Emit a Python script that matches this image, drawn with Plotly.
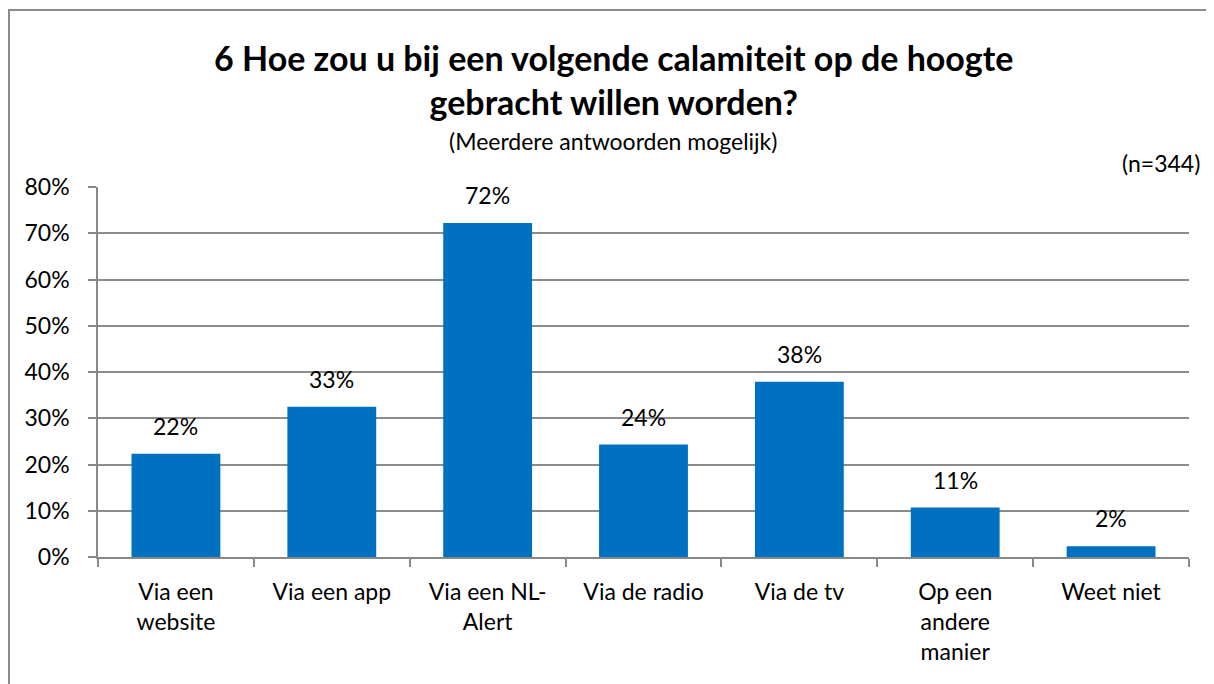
import plotly.graph_objects as go

categories = ["Via een<br>website", "Via een app", "Via een NL-<br>Alert", "Via de radio",
              "Via de tv", "Op een<br>andere<br>manier", "Weet niet"]
values = [22.3, 32.5, 72.2, 24.3, 37.9, 10.7, 2.3]
labels = ["22%", "33%", "72%", "24%", "38%", "11%", "2%"]
y_ticks = [0, 10, 20, 30, 40, 50, 60, 70, 80]
y_tick_labels = ["0%", "10%", "20%", "30%", "40%", "50%", "60%", "70%", "80%"]

FONT = "Lato, 'Open Sans', sans-serif"
OFF = 8  # default page body margin
W, H = 1214 - OFF, 684 - OFF
L, R, T, B = 98 - OFF, 1214 - 1189, 187 - OFF, 684 - 557
pw = W - L - R
ph = H - T - B

fig = go.Figure()
fig.add_trace(go.Bar(
    x=categories, y=values, marker_color="#0070C0", marker_line_width=0,
    width=0.57, hoverinfo="skip",
))

for c, v, t in zip(categories, values, labels):
    fig.add_annotation(x=c, y=v, text=t, showarrow=False, yanchor="bottom",
                       yshift=12, font=dict(family=FONT, size=23, color="#000"))

def px_x(p):
    return (p - OFF - L) / pw

def px_y(p):
    return (H - B - (p - OFF)) / ph

# titles
fig.add_annotation(xref="paper", yref="paper", x=px_x(613), y=px_y(79),
                   text="<b>6 Hoe zou u bij een volgende calamiteit op de hoogte<br>gebracht willen worden?</b>",
                   showarrow=False, xanchor="center", yanchor="middle",
                   font=dict(family=FONT, size=34, color="#000"))
fig.add_annotation(xref="paper", yref="paper", x=px_x(613), y=px_y(141),
                   text="(Meerdere antwoorden mogelijk)", showarrow=False,
                   xanchor="center", yanchor="middle",
                   font=dict(family=FONT, size=23, color="#000"))
fig.add_annotation(xref="paper", yref="paper", x=px_x(1202), y=px_y(163),
                   text="(n=344)", showarrow=False, xanchor="right", yanchor="middle",
                   font=dict(family=FONT, size=23, color="#000"))

# outer chart border
fig.add_shape(type="rect", xref="paper", yref="paper",
              x0=px_x(9), x1=px_x(1240), y0=px_y(720), y1=px_y(10),
              line=dict(color="#8c8c8c", width=2), fillcolor="rgba(0,0,0,0)", layer="below")

fig.update_layout(
    width=W, height=H, margin=dict(l=L, r=R, t=T, b=B),
    paper_bgcolor="white", plot_bgcolor="white", showlegend=False,
    font=dict(family=FONT, size=23, color="#000"),
)
fig.update_xaxes(
    type="category", tickson="boundaries", ticks="outside", ticklen=8,
    tickcolor="#888888", tickwidth=1.5, showline=True, linecolor="#888888", linewidth=1.5,
    showgrid=False, tickfont=dict(family=FONT, size=23, color="#000"), ticklabelstandoff=14,
)
fig.update_yaxes(
    range=[0, 80], tickvals=y_ticks, ticktext=y_tick_labels, ticks="outside", ticklen=8,
    tickcolor="#888888", tickwidth=1.5, showline=True, linecolor="#888888", linewidth=1.5,
    showgrid=True, gridcolor="#8c8c8c", gridwidth=1.5, zeroline=False,
    tickfont=dict(family=FONT, size=23, color="#000"), ticklabelstandoff=14,
)

fig.write_html("out.html")
